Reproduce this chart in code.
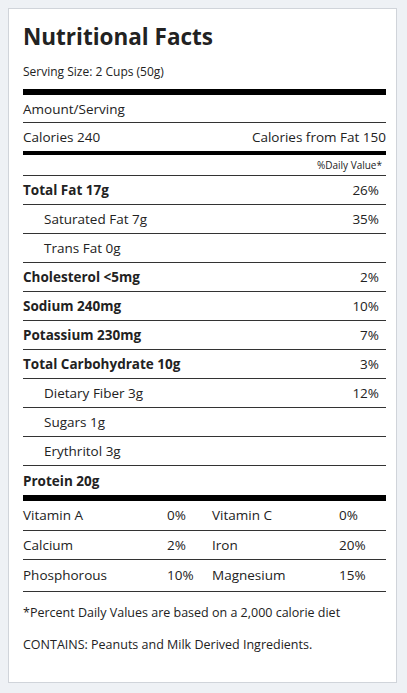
<!DOCTYPE html><html><head><meta charset="utf-8">
<script src="https://cdn.jsdelivr.net/npm/chart.js@4"></script>
<style>
html,body{margin:0;padding:0;background:#eef1f5;font-family:"Open Sans",sans-serif;color:#222}
#box{position:absolute;left:8px;top:8px;width:389px;height:675px;background:#fff;border:1px solid #d0d4da;box-sizing:border-box}
#in{position:absolute;left:14px;top:0;width:363px}
h1{margin:0;position:absolute;top:12px;font-size:22.5px;font-weight:700;letter-spacing:0}
.s{position:absolute;top:54px;font-size:12px}
.row{display:flex;justify-content:space-between;align-items:center;font-size:13.5px;border-bottom:1px solid #333;box-sizing:border-box}
.b{font-weight:700}.ind{padding-left:21px}
.thick{background:#000}
.vit{display:flex;font-size:13.5px;align-items:center;box-sizing:border-box}
</style></head><body>
<div id="box"><div id="in">
<h1>Nutritional Facts</h1>
<div class="s">Serving Size: 2 Cups (50g)</div>
<div id="main" style="position:absolute;top:80px;width:363px"></div>
</div></div>
<script>
const servingSize="Serving Size: 2 Cups (50g)";
const calories=["Calories 240","Calories from Fat 150"];
const nutrients=["Total Fat 17g","Saturated Fat 7g","Trans Fat 0g","Cholesterol <5mg","Sodium 240mg","Potassium 230mg","Total Carbohydrate 10g","Dietary Fiber 3g","Sugars 1g","Erythritol 3g","Protein 20g"];
const dailyValues=["26%","35%","","2%","10%","7%","3%","12%","","",""];
const boldRows=[1,0,0,1,1,1,1,0,0,0,1];
const vitNames1=["Vitamin A","Calcium","Phosphorous"];
const vitPct1=["0%","2%","10%"];
const vitNames2=["Vitamin C","Iron","Magnesium"];
const vitPct2=["0%","20%","15%"];
const footnotes=["*Percent Daily Values are based on a 2,000 calorie diet","CONTAINS: Peanuts and Milk Derived Ingredients."];
let h='';
h+='<div class="thick" style="height:6px"></div>';
h+='<div class="row" style="height:28px">Amount/Serving</div>';
h+='<div class="row" style="height:28px;border-bottom:none"><span>'+calories[0]+'</span><span>'+calories[1]+'</span></div>';
h+='<div class="thick" style="height:4px"></div>';
h+='<div class="row" style="height:21px;font-size:10px;justify-content:flex-end;padding-right:4px">%Daily Value*</div>';
nutrients.forEach((n,i)=>{const last=i==nutrients.length-1;
h+='<div class="row'+(boldRows[i]?' b':' ind')+'" style="height:29px;'+(last?'border-bottom:none':'')+'"><span>'+n+'</span><span style="font-weight:400;padding-right:7px">'+dailyValues[i]+'</span></div>';});
h+='<div class="thick" style="height:6px"></div>';
vitNames1.forEach((n,i)=>{h+='<div class="vit" style="height:29.5px;'+(i<2?'border-bottom:1px solid #333':'')+'"><span style="width:144px">'+n+'</span><span style="width:45px">'+vitPct1[i]+'</span><span style="width:127px">'+vitNames2[i]+'</span><span>'+vitPct2[i]+'</span></div>';});
h+='<div style="border-top:1px solid #333;margin-top:1px"></div>';
h+='<div style="font-size:12.5px;margin-top:12px">'+footnotes[0]+'</div>';
h+='<div style="font-size:12.5px;margin-top:15px">'+footnotes[1]+'</div>';
document.getElementById('main').innerHTML=h;
</script></body></html>
